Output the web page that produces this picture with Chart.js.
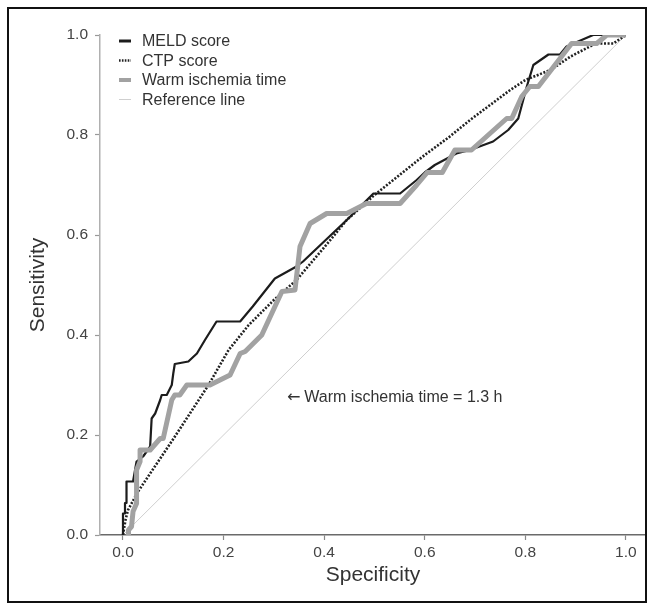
<!DOCTYPE html>
<html>
<head>
<meta charset="utf-8">
<script src="https://cdn.jsdelivr.net/npm/chart.js@4.4.1/dist/chart.umd.min.js"></script>
<style>
  html, body { margin: 0; padding: 0; background: #fff; }
  #wrap { position: relative; width: 655px; height: 610px; }
</style>
</head>
<body>
<div id="wrap"><canvas id="c" width="655" height="610"></canvas></div>
<script>
// ---- data ----
const meldSpec = [0, 0, 0.004, 0.004, 0.007, 0.007, 0.02, 0.027, 0.04, 0.054, 0.057, 0.064, 0.074, 0.077, 0.087, 0.097, 0.1, 0.103, 0.13, 0.147, 0.163, 0.186, 0.233, 0.258, 0.302, 0.345, 0.358, 0.445, 0.498, 0.551, 0.584, 0.6, 0.62, 0.663, 0.69, 0.736, 0.766, 0.786, 0.803, 0.816, 0.846, 0.869, 0.882, 0.935, 1.0];
const meldSens = [0, 0.043, 0.043, 0.064, 0.064, 0.107, 0.107, 0.147, 0.157, 0.177, 0.233, 0.243, 0.27, 0.28, 0.28, 0.3, 0.323, 0.342, 0.347, 0.363, 0.39, 0.427, 0.427, 0.457, 0.513, 0.537, 0.547, 0.63, 0.683, 0.683, 0.71, 0.725, 0.74, 0.763, 0.77, 0.787, 0.81, 0.833, 0.897, 0.94, 0.961, 0.961, 0.977, 1.0, 1.0];

const ctpSpec = [0, 0.005, 0.01, 0.03, 0.1, 0.17, 0.21, 0.25, 0.3, 0.345, 0.4, 0.445, 0.5, 0.55, 0.6, 0.65, 0.69, 0.73, 0.77, 0.8, 0.85, 0.89, 0.94, 0.975, 1.0];
const ctpSens = [0, 0.03, 0.05, 0.087, 0.192, 0.3, 0.37, 0.42, 0.47, 0.51, 0.575, 0.63, 0.68, 0.72, 0.76, 0.797, 0.83, 0.86, 0.89, 0.91, 0.93, 0.957, 0.983, 0.983, 1.0];

const warmSpec = [0.011, 0.011, 0.017, 0.02, 0.027, 0.027, 0.034, 0.034, 0.054, 0.074, 0.08, 0.097, 0.103, 0.113, 0.127, 0.173, 0.193, 0.213, 0.233, 0.243, 0.276, 0.316, 0.342, 0.352, 0.372, 0.405, 0.445, 0.484, 0.551, 0.584, 0.605, 0.635, 0.66, 0.693, 0.763, 0.773, 0.793, 0.809, 0.826, 0.892, 0.942, 0.962, 1.0];
const warmSens = [0, 0.01, 0.017, 0.047, 0.063, 0.13, 0.147, 0.17, 0.17, 0.193, 0.193, 0.27, 0.28, 0.28, 0.3, 0.3, 0.31, 0.32, 0.363, 0.367, 0.4, 0.487, 0.49, 0.577, 0.623, 0.643, 0.643, 0.663, 0.663, 0.70, 0.725, 0.725, 0.77, 0.77, 0.833, 0.833, 0.877, 0.897, 0.897, 0.983, 0.983, 1.0, 1.0];

const refSpec = [0, 1];
const refSens = [0, 1];

const xTickValues = [0, 0.2, 0.4, 0.6, 0.8, 1.0];
const yTickValues = [0, 0.2, 0.4, 0.6, 0.8, 1.0];

const seriesNames = ['MELD score', 'CTP score', 'Warm ischemia time', 'Reference line'];
const xTitle = 'Specificity';
const yTitle = 'Sensitivity';
const annotArrow = '\u2190';
const annotText = 'Warm ischemia time = 1.3 h';
const annotX = 0.326;
const annotY = 0.274;

// ---- build ----
const pts = (xs, ys) => xs.map((v, i) => ({ x: v, y: ys[i] }));
const FONT = "'Liberation Sans', Arial, sans-serif";

const styles = {
  meld: { color: '#1c1c1c', width: 2.2, dash: [] },
  ctp: { color: '#222222', width: 2.6, dash: [2, 1.6] },
  warm: { color: '#a2a2a2', width: 5, dash: [] },
  ref: { color: '#cfcfcf', width: 1, dash: [] }
};

const lineDs = (label, data, st) => ({
  label, data, showLine: true, borderColor: st.color, backgroundColor: st.color,
  borderWidth: st.width, borderDash: st.dash, pointRadius: 0, pointHoverRadius: 0,
  tension: 0, fill: false, borderJoinStyle: 'round', borderCapStyle: 'butt'
});

const legendPlugin = {
  id: 'customLegend',
  afterDraw(chart) {
    const ctx = chart.ctx;
    const items = [
      [seriesNames[0], styles.meld, 3],
      [seriesNames[1], styles.ctp, 2.4],
      [seriesNames[2], styles.warm, 4],
      [seriesNames[3], styles.ref, 1]
    ];
    ctx.save();
    ctx.font = '16px ' + FONT;
    ctx.textBaseline = 'middle';
    ctx.textAlign = 'left';
    items.forEach((it, i) => {
      const y = 41 + i * 19.5;
      ctx.beginPath();
      ctx.strokeStyle = it[1].color;
      ctx.lineWidth = it[2];
      ctx.setLineDash(it[1].dash.length ? [1.6, 1.3] : []);
      ctx.moveTo(119, y);
      ctx.lineTo(131, y);
      ctx.stroke();
      ctx.setLineDash([]);
      ctx.fillStyle = '#333';
      ctx.fillText(it[0], 142, y + 1);
    });
    ctx.restore();
  }
};

const annotPlugin = {
  id: 'annot',
  afterDraw(chart) {
    const { ctx, scales } = chart;
    const px = scales.x.getPixelForValue(annotX);
    const py = scales.y.getPixelForValue(annotY);
    ctx.save();
    ctx.fillStyle = '#333';
    ctx.textBaseline = 'middle';
    ctx.textAlign = 'left';
    ctx.font = "16px 'DejaVu Sans', sans-serif";
    ctx.fillText(annotArrow, px, py);
    const aw = ctx.measureText(annotArrow).width;
    ctx.font = '16px ' + FONT;
    ctx.fillText(annotText, px + aw + 4, py);
    ctx.restore();
  }
};

const framePlugin = {
  id: 'frame',
  afterDraw(chart) {
    const ctx = chart.ctx;
    ctx.save();
    ctx.strokeStyle = '#111';
    ctx.lineWidth = 2;
    ctx.strokeRect(8, 8, 638, 594);
    ctx.restore();
  }
};

new Chart(document.getElementById('c'), {
  type: 'scatter',
  data: {
    datasets: [
      lineDs(seriesNames[2], pts(warmSpec, warmSens), styles.warm),
      lineDs(seriesNames[0], pts(meldSpec, meldSens), styles.meld),
      lineDs(seriesNames[1], pts(ctpSpec, ctpSens), styles.ctp),
      lineDs(seriesNames[3], pts(refSpec, refSens), styles.ref)
    ]
  },
  options: {
    responsive: false,
    animation: false,
    devicePixelRatio: 1,
    layout: { padding: { top: 35, right: 9, bottom: 0, left: 0 } },
    plugins: { legend: { display: false }, tooltip: { enabled: false } },
    scales: {
      x: {
        type: 'linear', min: -0.0457, max: 1.04,
        afterBuildTicks: s => { s.ticks = xTickValues.map(v => ({ value: v })); },
        afterFit: s => { s.height = 75; },
        ticks: { callback: v => Number(v).toFixed(1), color: '#444', font: { family: FONT, size: 15.5 }, padding: 3, maxRotation: 0, autoSkip: false },
        grid: { drawOnChartArea: false, drawTicks: true, tickLength: 5, color: '#888', tickWidth: 1.2 },
        border: { display: true, color: '#6a6a6a', width: 1.5 },
        title: { display: true, text: xTitle, color: '#333', font: { family: FONT, size: 21 }, padding: { top: 0, bottom: 22 } }
      },
      y: {
        type: 'linear', min: 0, max: 1,
        afterBuildTicks: s => { s.ticks = yTickValues.map(v => ({ value: v })); },
        afterFit: s => { s.width = 100; },
        ticks: { callback: v => Number(v).toFixed(1), color: '#444', font: { family: FONT, size: 15.5 }, padding: 7, autoSkip: false },
        grid: { drawOnChartArea: false, drawTicks: true, tickLength: 5, color: '#999', tickWidth: 1.2 },
        border: { display: true, color: '#b0b0b0', width: 1.5 },
        title: { display: true, text: yTitle, color: '#333', font: { family: FONT, size: 21 }, padding: { top: 26, bottom: 0 } }
      }
    }
  },
  plugins: [legendPlugin, annotPlugin, framePlugin]
});
</script>
</body>
</html>
